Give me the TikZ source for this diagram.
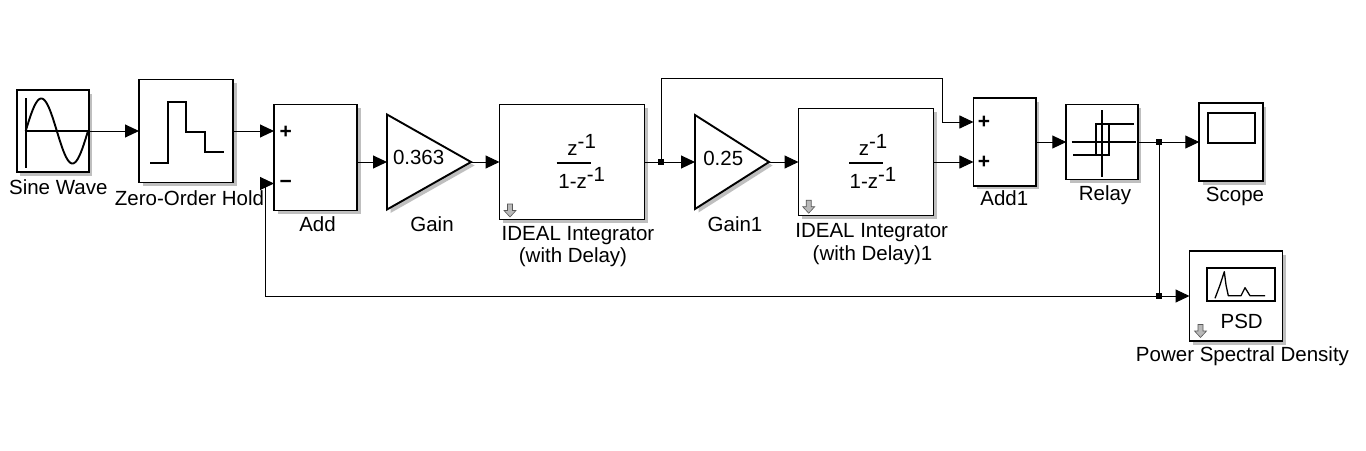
\documentclass[tikz,border=0pt]{standalone}
\usepackage{fontspec}
\setmainfont{Liberation Sans}
\usetikzlibrary{arrows.meta,shadows}
\tikzset{
  dnarrow/.pic={\filldraw[fill=gray!55, draw=gray!70!black, line width=0.6pt]
     (-2.5,-6.5) -- (2.5,-6.5) -- (2.5,0) -- (6,0) -- (0,6.5) -- (-6,0) -- (-2.5,0) -- cycle;}
}
\begin{document}
\begin{tikzpicture}[x=1pt,y=-1pt,
  every node/.style={font=\fontsize{20.5}{23}\selectfont, inner sep=0pt, outer sep=0pt},
  blk/.style={draw, line width=1.9pt, fill=white, rectangle,
     drop shadow={shadow xshift=3.5pt, shadow yshift=-3.5pt, fill=gray!50, opacity=1}},
  tri/.style={draw, line width=1.9pt, fill=white, line join=miter},
  shd/.style={fill=gray!50},
  icon/.style={line width=1.9pt},
  conn/.style={line width=1pt, -{Triangle[length=14pt,width=13pt]}},
  wire/.style={line width=1pt},
  dot/.style={fill=black, rectangle, minimum size=6.5pt},
  pm/.style={font=\bfseries\fontsize{21}{21}\selectfont},
  lbl/.style={anchor=base}
]
\fill[white] (0,0) rectangle (1366,450);
\useasboundingbox (0,0) rectangle (1366,450);

% blocks
\node[blk, minimum width=72pt, minimum height=82pt] (sine) at (52.8,131) {};
\node[blk, minimum width=94pt, minimum height=103pt] (zoh) at (186,131) {};
\node[blk, minimum width=83pt, minimum height=106pt] (add) at (315.5,157.5) {};
\node[minimum width=84pt, minimum height=95pt] (gain) at (429,162) {};
\node[blk, minimum width=145pt, minimum height=115pt] (int1) at (572,162) {};
\node[minimum width=74pt, minimum height=94pt] (gain1) at (732,162) {};
\node[blk, minimum width=135pt, minimum height=107pt] (int2) at (866,162) {};
\node[blk, minimum width=62.5pt, minimum height=87.5pt] (add1) at (1004.7,142) {};
\node[blk, minimum width=71.5pt, minimum height=75pt] (relay) at (1102,142) {};
\node[blk, minimum width=63.5pt, minimum height=78pt] (scope) at (1231,142) {};
\node[blk, minimum width=93pt, minimum height=90pt] (psd) at (1236,296) {};

% gain triangles
\foreach \g in {gain,gain1} {
  \fill[shd] ([xshift=3.5pt,yshift=-3.5pt]\g.north west) -- ([xshift=3.5pt,yshift=-3.5pt]\g.south west) -- ([xshift=3.5pt,yshift=-3.5pt]\g.east) -- cycle;
  \draw[tri] (\g.north west) -- (\g.south west) -- (\g.east) -- cycle;
}

% sine icon
\draw[icon] (25.7,98.3) -- (25.7,167.7);
\draw[icon] (25.7,131) -- (88.3,131);
\draw[icon] plot[domain=0:360, samples=72, smooth] ({25.7+\x/360*62.3}, {131-32.5*sin(\x)});

% zero-order hold icon
\draw[icon] (150,162.7) -- (168.3,162.7) -- (168.3,101.7) -- (186,101.7) -- (186,131.7) -- (205,131.7) -- (205,151.7) -- (224,151.7);

% relay icon
\draw[icon] (1101.7,110) -- (1101.7,176.7);
\draw[icon] (1071.7,142.3) -- (1136,142.3);
\draw[icon] (1134,124) -- (1096,124) -- (1096,155);
\draw[icon] (1073.3,155) -- (1109.3,155) -- (1109.3,124);

% scope icon
\draw[icon] (1208.3,113.3) rectangle (1255,142.7);

% PSD icon
\draw[icon] (1206.7,267.7) rectangle (1275,301);
\draw[line width=1.3pt, line join=round] (1215,298.3) -- (1220,285) -- (1224.3,271.7) -- (1226,285) -- (1228.3,295.7) -- (1241,295.7) -- (1245,287.7) -- (1250,295.7) -- (1265,295.7);

% gray down arrows
\pic at (510,210.5) {dnarrow};
\pic at (808.7,206.7) {dnarrow};
\pic at (1200.5,331) {dnarrow};

% texts inside blocks
\node[anchor=base west] (g0t) at (393,164.5) {0.363};
\node[anchor=base west] (g1t) at (703.3,165) {0.25};
\node[lbl] (n1) at (581.7,155) {z\raisebox{7pt}{-1}};
\draw[icon] (556.7,163) -- (590.7,163);
\node[lbl] (d1) at (581.7,188.3) {1-z\raisebox{7pt}{-1}};
\node[lbl] (n2) at (873,155) {z\raisebox{7pt}{-1}};
\draw[icon] (849,163) -- (882.7,163);
\node[lbl] (d2) at (873,188.3) {1-z\raisebox{7pt}{-1}};
\node[pm] (p1) at (285.8,132.5) {+};
\node[pm] (m1) at (285.8,184) {−};
\node[pm] (p2) at (984,122.3) {+};
\node[pm] (p3) at (984,162.5) {+};
\node[lbl] (psdt) at (1241.7,328.3) {PSD};

% labels
\node[lbl] (l1) at (58.3,194.3) {Sine Wave};
\node[lbl] (l2) at (189.5,205) {Zero-Order Hold};
\node[lbl] (l3) at (317.5,231) {Add};
\node[lbl] (l4) at (432,231) {Gain};
\node[lbl] (l5) at (578,240.7) {IDEAL Integrator};
\node[lbl] (l5b) at (573,262.5) {(with Delay)};
\node[lbl] (l6) at (735,231) {Gain1};
\node[lbl] (l7) at (871.7,237.7) {IDEAL Integrator};
\node[lbl] (l7b) at (872.5,260) {(with Delay)1};
\node[lbl] (l8) at (1004.3,205) {Add1};
\node[lbl] (l9) at (1105,200.5) {Relay};
\node[lbl] (l10) at (1235,201.7) {Scope};
\node[lbl] (l11) at (1242.5,361.7) {Power Spectral Density};

% junctions and coordinates
\node[dot] (j1) at (661,162) {};
\node[dot] (j3) at (1159,142) {};
\node[dot] (j4) at (1159,296) {};
\coordinate (t1) at (661,78);
\coordinate (t2) at (942,78);
\coordinate (b1) at (265,296);
\coordinate (addp) at ([yshift=26.5pt]add.west);
\coordinate (addm) at ([yshift=-26pt]add.west);
\coordinate (a1p) at ([yshift=20pt]add1.west);

% connectors
\draw[conn] (sine.east) -- (sine.east -| zoh.west);
\draw[conn] (zoh.east |- addp) -- (addp);
\draw[conn] (add.east |- gain.west) -- (gain.west);
\draw[conn] (gain.east) -- (int1.west);
\draw[wire] (int1.east) -- (j1.center);
\draw[conn] (j1) -- (gain1.west);
\draw[conn] (gain1.east) -- (int2.west);
\draw[conn] (int2.east) -- (int2.east -| add1.west);
\draw[conn] (j1.center) -- (t1) -- (t2) |- (a1p);
\draw[conn] (add1.east) -- (relay.west);
\draw[wire] (relay.east) -- (j3.center);
\draw[conn] (j3) -- (scope.west);
\draw[wire] (j3.center) -- (j4.center);
\draw[conn] (j4) -- (psd.west);
\draw[conn] (j4.center) -- (b1) |- (addm);
\end{tikzpicture}
\end{document}
